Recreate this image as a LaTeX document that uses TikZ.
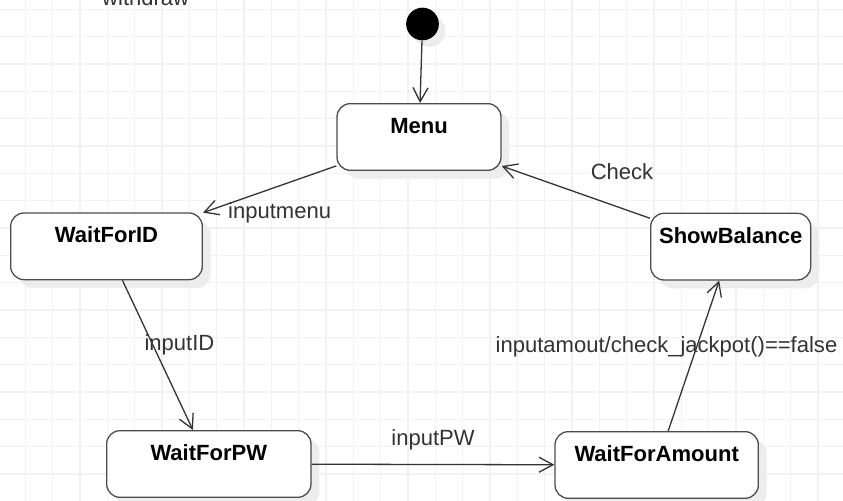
\documentclass[tikz,border=0pt]{standalone}
\usepackage{fontspec}
\setmainfont{Liberation Sans}
\usetikzlibrary{arrows.meta}
\usetikzlibrary{shadows}

\tikzset{
  gridline/.style={draw=black!5, line width=1pt, step=0.82cm},
  statebox/.style={draw=black!70, line width=1.1pt, fill=white, rounded corners=0.4cm,
    anchor=north, inner xsep=0pt, inner ysep=0pt, text height=0.9cm, text depth=1.1cm,
    font=\fontsize{18.8}{22}\selectfont\bfseries,
    drop shadow={shadow xshift=0.25cm, shadow yshift=-0.25cm, fill=black!7, opacity=1}},
  initdot/.style={circle, fill=black, minimum size=0.98cm, inner sep=0pt,
    drop shadow={shadow xshift=0.2cm, shadow yshift=-0.2cm, fill=black!7, opacity=1}},
  trans/.style={draw=black!80, line width=1.1pt, -{Straight Barb[length=0.42cm, width=0.45cm]}},
  translabel/.style={text=black!80, font=\fontsize{18.8}{22}\selectfont, inner sep=0pt, anchor=base}
}

\begin{document}
\begin{tikzpicture}

        % page frame and background grid
        \clip (0,0) rectangle (25.29,-15);
        \fill[white] (0,0) rectangle (25.29,-15);
        \draw[gridline, xshift=-0.06cm, yshift=-0.28cm] (-1,1) grid (27,-16);

        % initial state
        \node[initdot] (init) at (12.675,-0.72) {};

        % define the states
        \node[statebox, minimum width=4.92cm] (menu) at (12.57,-3.09) {Menu};
        \node[statebox, minimum width=5.75cm] (wait_id) at (3.195,-6.37) {WaitForID};
        \node[statebox, minimum width=6.13cm] (wait_pw) at (6.265,-12.9) {WaitForPW};
        \node[statebox, minimum width=6.1cm] (wait_amount) at (19.70,-12.93) {WaitForAmount};
        \node[statebox, minimum width=4.8cm] (show_balance) at (21.92,-6.38) {ShowBalance};

        % draw the transitions
        \draw[trans] (init) -- (menu);
        \draw[trans] (menu) -- (wait_id);
        \draw[trans] (wait_id) -- (wait_pw);
        \draw[trans] (wait_pw) -- (wait_amount);
        \draw[trans] (wait_amount) -- (show_balance);
        \draw[trans] (show_balance) -- (menu);

        % add the transition labels
        \node[translabel, anchor=base west] (lbl_withdraw) at (3.06,-0.15) {withdraw};
        \node[translabel, anchor=base west] (lbl_menu) at (6.84,-6.54) {inputmenu};
        \node[translabel] (lbl_id) at (5.385,-10.5) {inputID};
        \node[translabel] (lbl_pw) at (12.99,-13.35) {inputPW};
        \node[translabel] (lbl_amount) at (19.995,-10.57) {inputamout/check\_jackpot()==false};
        \node[translabel] (lbl_check) at (18.66,-5.37) {Check};

\end{tikzpicture}
\end{document}
